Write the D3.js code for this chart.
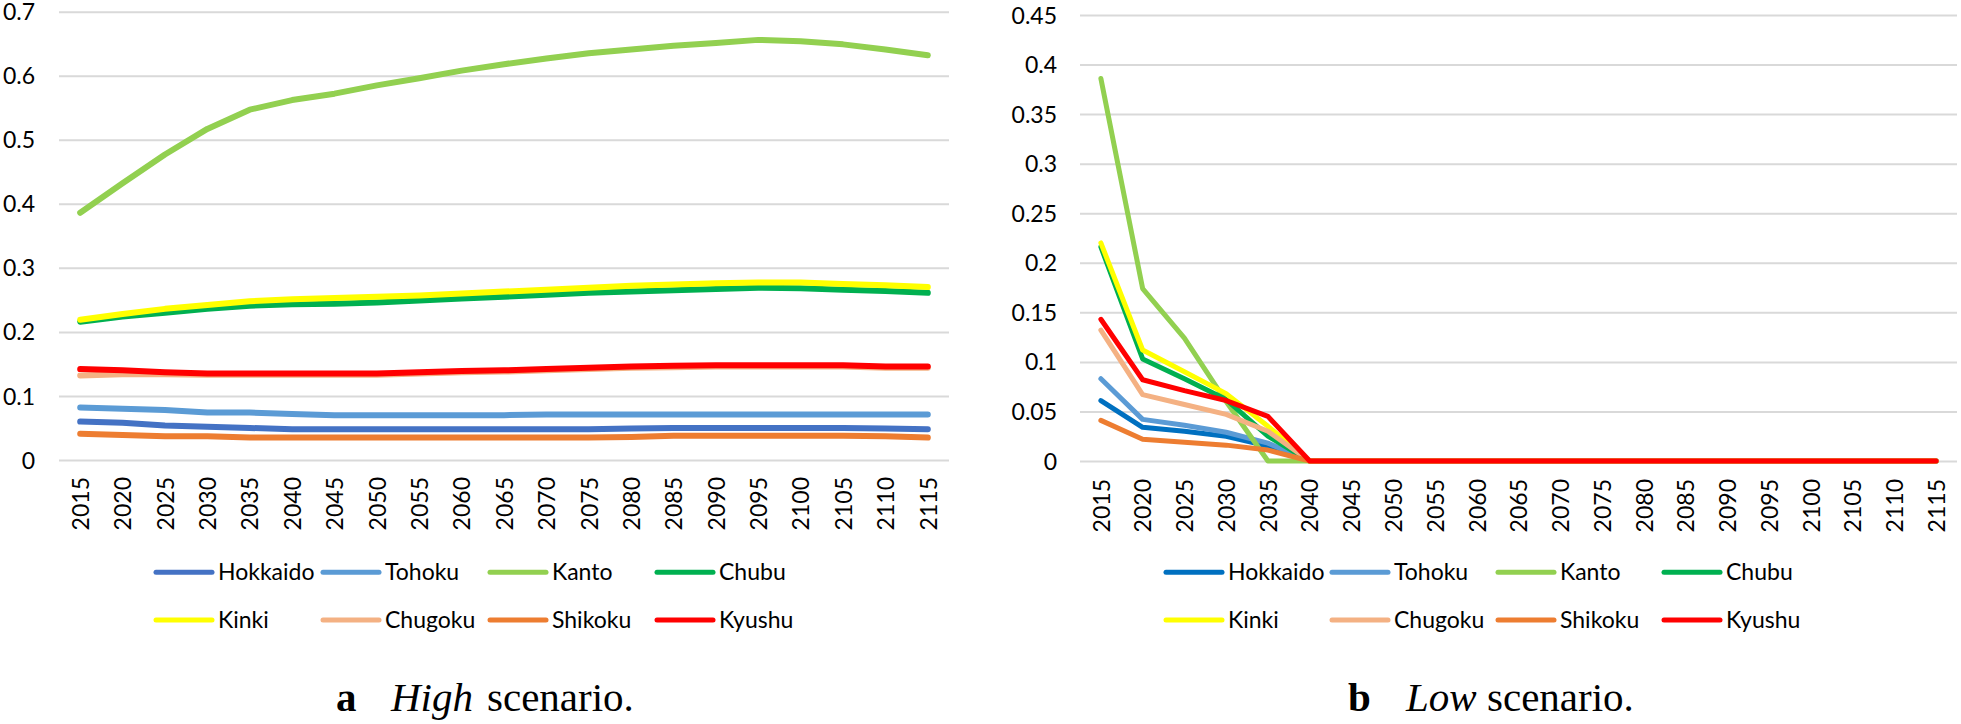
<!DOCTYPE html>
<html>
<head>
<meta charset="utf-8">
<script src="https://cdn.jsdelivr.net/npm/d3@7"></script>
<style>
  html, body { margin: 0; padding: 0; background: #fff; }
  svg { display: block; }
  .tick text { font-family: Lato, "Open Sans", sans-serif; font-size: 23px; fill: #000; }
  .legend text { font-family: Lato, "Open Sans", sans-serif; font-size: 23px; fill: #000; }
  .caption { font-family: "Liberation Serif", "DejaVu Serif", serif; font-size: 41px; fill: #000; }
</style>
</head>
<body>
<svg id="chart" width="1961" height="724"></svg>
<script>
// ---------- DATA ----------
const years = [2015, 2020, 2025, 2030, 2035, 2040, 2045, 2050, 2055, 2060, 2065,
               2070, 2075, 2080, 2085, 2090, 2095, 2100, 2105, 2110, 2115];
const regions = ["Hokkaido", "Tohoku", "Kanto", "Chubu", "Kinki", "Chugoku", "Shikoku", "Kyushu"];

const highTicks = [0, 0.1, 0.2, 0.3, 0.4, 0.5, 0.6, 0.7];
const highTickLabels = ["0", "0.1", "0.2", "0.3", "0.4", "0.5", "0.6", "0.7"];
const lowTicks = [0, 0.05, 0.1, 0.15, 0.2, 0.25, 0.3, 0.35, 0.4, 0.45];
const lowTickLabels = ["0", "0.05", "0.1", "0.15", "0.2", "0.25", "0.3", "0.35", "0.4", "0.45"];

// High scenario
const highHokkaido = [0.060,0.058,0.054,0.052,0.050,0.048,0.048,0.048,0.048,0.048,0.048,0.048,0.048,0.049,0.050,0.050,0.050,0.050,0.050,0.049,0.048];
const highTohoku   = [0.082,0.080,0.078,0.074,0.074,0.072,0.070,0.070,0.070,0.070,0.070,0.071,0.071,0.071,0.071,0.071,0.071,0.071,0.071,0.071,0.071];
const highKanto    = [0.386,0.432,0.477,0.517,0.547,0.562,0.572,0.585,0.596,0.608,0.618,0.627,0.635,0.641,0.647,0.651,0.656,0.654,0.649,0.641,0.632];
const highChubu    = [0.216,0.224,0.230,0.236,0.241,0.243,0.244,0.246,0.249,0.252,0.255,0.258,0.261,0.263,0.265,0.267,0.269,0.268,0.266,0.264,0.261];
const highKinki    = [0.219,0.228,0.236,0.242,0.248,0.251,0.253,0.255,0.257,0.260,0.263,0.266,0.269,0.272,0.274,0.276,0.277,0.277,0.275,0.273,0.270];
const highChugoku  = [0.132,0.134,0.134,0.133,0.133,0.133,0.133,0.133,0.135,0.137,0.138,0.140,0.142,0.144,0.145,0.146,0.146,0.146,0.146,0.144,0.144];
const highShikoku  = [0.041,0.039,0.037,0.037,0.035,0.035,0.035,0.035,0.035,0.035,0.035,0.035,0.035,0.036,0.038,0.038,0.038,0.038,0.038,0.037,0.035];
const highKyushu   = [0.142,0.140,0.137,0.135,0.135,0.135,0.135,0.135,0.137,0.139,0.140,0.142,0.144,0.146,0.147,0.148,0.148,0.148,0.148,0.146,0.146];

// Low scenario
const lowHokkaido = [0.061,0.034,0.030,0.025,0.015,0,0,0,0,0,0,0,0,0,0,0,0,0,0,0,0];
const lowTohoku   = [0.083,0.042,0.036,0.029,0.018,0,0,0,0,0,0,0,0,0,0,0,0,0,0,0,0];
const lowKanto    = [0.386,0.174,0.124,0.060,0,0,0,0,0,0,0,0,0,0,0,0,0,0,0,0,0];
const lowChubu    = [0.216,0.103,0.083,0.062,0.025,0,0,0,0,0,0,0,0,0,0,0,0,0,0,0,0];
const lowKinki    = [0.220,0.112,0.090,0.068,0.035,0,0,0,0,0,0,0,0,0,0,0,0,0,0,0,0];
const lowChugoku  = [0.132,0.067,0.057,0.047,0.030,0,0,0,0,0,0,0,0,0,0,0,0,0,0,0,0];
const lowShikoku  = [0.041,0.022,0.019,0.016,0.011,0,0,0,0,0,0,0,0,0,0,0,0,0,0,0,0];
const lowKyushu   = [0.143,0.082,0.071,0.061,0.045,0,0,0,0,0,0,0,0,0,0,0,0,0,0,0,0];

const highColors = ["#4472C4", "#5B9BD5", "#92D050", "#00B050", "#FFFF00", "#F4B183", "#ED7D31", "#FF0000"];
const lowColors  = ["#0070C0", "#5B9BD5", "#92D050", "#00B050", "#FFFF00", "#F4B183", "#ED7D31", "#FF0000"];

// ---------- DRAW ----------
const svg = d3.select("#chart");

function panel(cfg) {
  const g = svg.append("g");
  const x = d3.scalePoint().domain(years).range([cfg.x0, cfg.x1]).padding(0.5);
  const y = d3.scaleLinear().domain([0, cfg.yMax]).range([cfg.yBottom, cfg.yTop]);

  // y axis with gridlines
  const yAxis = d3.axisLeft(y)
    .tickValues(cfg.ticks)
    .tickFormat((d, i) => cfg.tickLabels[i])
    .tickSize(-(cfg.x1 - cfg.x0))
    .tickPadding(cfg.yPad);
  const ya = g.append("g").attr("transform", `translate(${cfg.x0},0)`).call(yAxis);
  ya.select(".domain").remove();
  ya.selectAll(".tick line").attr("stroke", "#D9D9D9").attr("stroke-width", 2);
  ya.selectAll(".tick text").attr("dy", "0.35em");

  // x axis labels (rotated)
  const xAxis = d3.axisBottom(x).tickSize(0);
  const xa = g.append("g").attr("transform", `translate(0,${cfg.yBottom})`).call(xAxis);
  xa.select(".domain").remove();
  xa.selectAll(".tick text")
    .attr("transform", "rotate(-90)")
    .attr("x", -cfg.xLabOff)
    .attr("y", 0)
    .attr("dy", "0.36em")
    .style("text-anchor", "end");

  // lines
  const line = d3.line()
    .x((d, i) => x(years[i]))
    .y(d => y(d));
  cfg.series.forEach((s, k) => {
    g.append("path")
      .datum(s)
      .attr("d", line)
      .attr("fill", "none")
      .attr("stroke", cfg.colors[k])
      .attr("stroke-width", cfg.lw)
      .attr("stroke-linecap", "round")
      .attr("stroke-linejoin", "round");
  });

  // legend
  const lg = g.append("g").attr("class", "legend");
  regions.forEach((name, k) => {
    const col = k % 4, row = Math.floor(k / 4);
    const lx = cfg.legX + col * cfg.legStep;
    const ly = cfg.legY + row * 47.7;
    lg.append("line")
      .attr("x1", lx + 2).attr("x2", lx + 58)
      .attr("y1", ly).attr("y2", ly)
      .attr("stroke", cfg.colors[k])
      .attr("stroke-width", 5)
      .attr("stroke-linecap", "round");
    lg.append("text")
      .attr("x", lx + 64).attr("y", ly)
      .attr("dy", "0.35em")
      .text(name);
  });

  // caption
  const cap = g.append("text").attr("class", "caption").attr("y", 711);
  cap.append("tspan").attr("x", cfg.capX[0]).style("font-weight", "bold").text(cfg.capLetter);
  cap.append("tspan").attr("x", cfg.capX[1]).style("font-style", "italic").text(cfg.capWord);
  cap.append("tspan").attr("x", cfg.capX[2]).text("scenario.");
}

panel({
  x0: 59, x1: 949, yBottom: 460, yTop: 11.7, yMax: 0.7,
  ticks: highTicks, tickLabels: highTickLabels, yPad: 24, xLabOff: 17,
  series: [highHokkaido, highTohoku, highKanto, highChubu, highKinki, highChugoku, highShikoku, highKyushu],
  colors: highColors, lw: 6,
  legX: 154, legY: 572.3, legStep: 167,
  capLetter: "a", capWord: "High", capX: [336, 391, 487]
});

panel({
  x0: 1080, x1: 1957, yBottom: 461, yTop: 15, yMax: 0.45,
  ticks: lowTicks, tickLabels: lowTickLabels, yPad: 23, xLabOff: 18,
  series: [lowHokkaido, lowTohoku, lowKanto, lowChubu, lowKinki, lowChugoku, lowShikoku, lowKyushu],
  colors: lowColors, lw: 5,
  legX: 1164, legY: 572.3, legStep: 166,
  capLetter: "b", capWord: "Low", capX: [1348, 1406, 1487]
});
</script>
</body>
</html>
